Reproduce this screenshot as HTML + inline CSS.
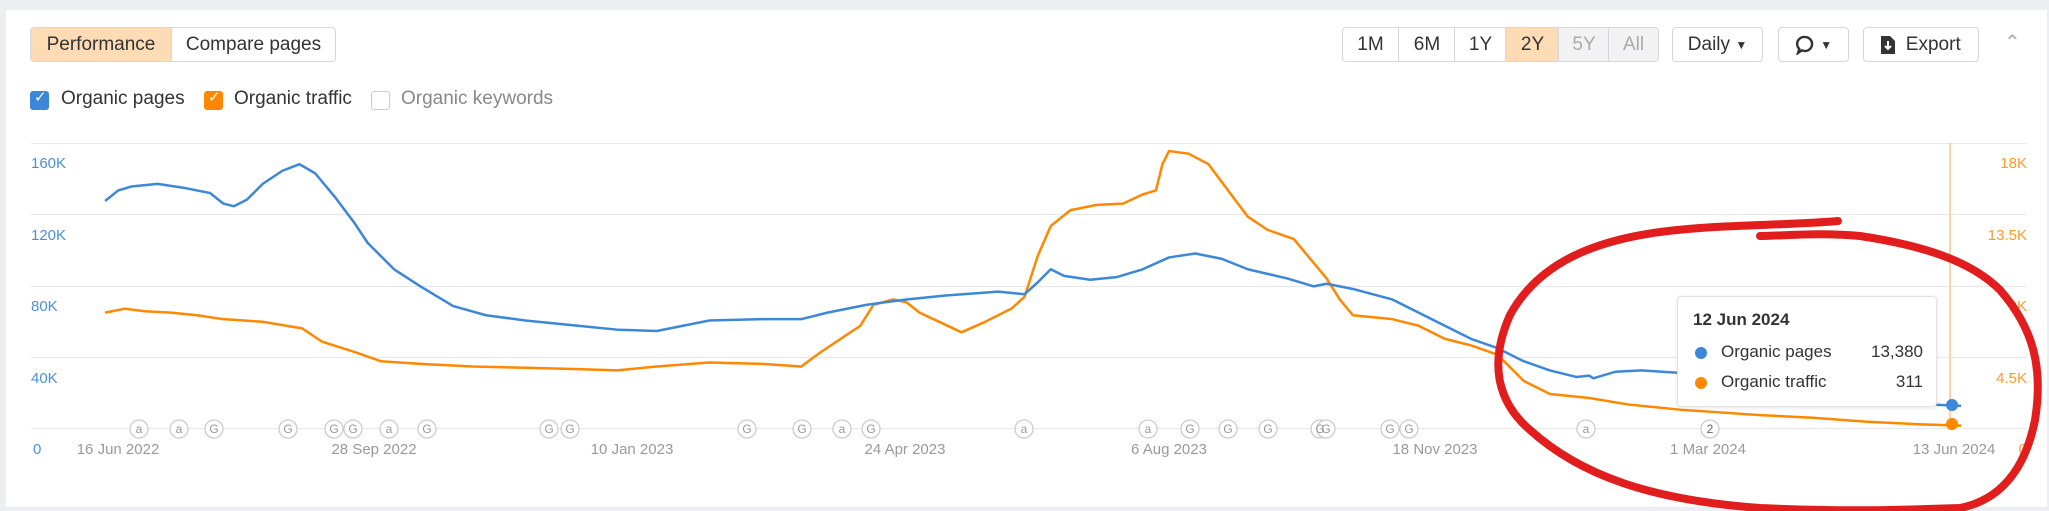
<!DOCTYPE html>
<html><head><meta charset="utf-8"><style>
body{margin:0;width:2049px;height:511px;background:#eceef1;font-family:"Liberation Sans",sans-serif;overflow:hidden;position:relative}
.card{position:absolute;left:6px;top:10px;width:2041px;height:497px;background:#fff}
.btn{position:absolute;top:27px;height:35px;border:1px solid #d5d7db;border-radius:4px;box-sizing:border-box;background:#fff;font-size:19px;color:#333;display:flex;align-items:center;justify-content:center}
.seg{position:absolute;top:0;bottom:0;display:flex;align-items:center;justify-content:center;border-left:1px solid #d5d7db}
.cb{position:absolute;top:91px;width:19px;height:19px;border-radius:3px;box-sizing:border-box}
.lbl{position:absolute;top:88px;font-size:19px;color:#333}
.ax{position:absolute;font-size:15px}
.dt{position:absolute;top:441px;font-size:15px;color:#999;transform:translateX(-50%)}
</style></head><body>
<div class="card"></div>
<div class="btn" style="left:30px;width:306px;overflow:hidden">
 <div class="seg" style="left:0;width:140px;background:#fddcb5;border:none">Performance</div>
 <div class="seg" style="left:140px;right:0">Compare pages</div>
</div>
<div class="cb" style="left:30px;background:#3d87d8"></div><span style="position:absolute;left:34px;top:88px;color:#fff;font-size:15px">✓</span>
<div class="lbl" style="left:61px">Organic pages</div>
<div class="cb" style="left:204px;background:#ff8800"></div><span style="position:absolute;left:208px;top:88px;color:#fff;font-size:15px">✓</span>
<div class="lbl" style="left:234px">Organic traffic</div>
<div class="cb" style="left:371px;border:1px solid #ccc"></div>
<div class="lbl" style="left:401px;color:#888">Organic keywords</div>

<div class="btn" style="left:1342px;width:317px;overflow:hidden">
 <div class="seg" style="left:0;width:55px;border:none">1M</div>
 <div class="seg" style="left:55px;width:56px">6M</div>
 <div class="seg" style="left:111px;width:51px">1Y</div>
 <div class="seg" style="left:162px;width:53px;background:#fddcb5">2Y</div>
 <div class="seg" style="left:215px;width:50px;background:#f2f2f2;color:#aaa">5Y</div>
 <div class="seg" style="left:265px;right:0;background:#f2f2f2;color:#aaa">All</div>
</div>
<div class="btn" style="left:1672px;width:91px">Daily&nbsp;<span style="font-size:12px">▼</span></div>
<div class="btn" style="left:1778px;width:71px"><svg width="20" height="20" viewBox="0 0 20 20"><path d="M10 2a7 7 0 1 1-3 13.3L3 18l1.3-4A7 7 0 0 1 10 2z" fill="none" stroke="#333" stroke-width="2.4"/></svg>&nbsp;<span style="font-size:12px">▼</span></div>
<div class="btn" style="left:1863px;width:116px"><svg width="14" height="18" viewBox="0 0 14 18"><path d="M0 0h9l5 5v13H0z" fill="#333"/><path d="M7 5v8M4 10l3 3 3-3" stroke="#fff" stroke-width="2" fill="none"/></svg>&nbsp;&nbsp;Export</div>
<div style="position:absolute;left:2004px;top:30px;font-size:20px;color:#aaa">&#8963;</div>

<svg style="position:absolute;left:0;top:0" width="2049" height="511">
 <g stroke="#e8e8e8" stroke-width="1">
  <line x1="31" y1="143.5" x2="2027" y2="143.5"/><line x1="31" y1="214.5" x2="2027" y2="214.5"/>
  <line x1="31" y1="286.5" x2="2027" y2="286.5"/><line x1="31" y1="357.5" x2="2027" y2="357.5"/>
  <line x1="31" y1="428.5" x2="2027" y2="428.5"/>
 </g>
 <line x1="1950" y1="143" x2="1950" y2="428" stroke="#fbd3a8" stroke-width="2"/>
 <g fill="none" stroke-width="2.5" stroke-linejoin="round" transform="scale(1.3135)">
  <polyline vector-effect="non-scaling-stroke" stroke="#ff8800" points="80,238 95,235 110,237 130,238 150,240 170,243 200,245 230,250 245,260 270,268 290,275 320,277 360,279 400,280 440,281 470,282 500,279 540,276 580,277 610,279 625,268 640,258 655,248 665,232 680,228 690,230 700,238 715,245 732,253 750,245 770,235 780,226 790,195 800,172 815,160 835,156 855,155 870,148 880,145 885,125 890,115 905,117 920,125 935,145 950,165 965,175 985,182 1000,200 1010,212 1020,228 1030,240 1060,243 1080,248 1100,258 1120,263 1140,270 1160,290 1180,300 1210,303 1240,308 1280,312 1310,314 1340,316 1380,318 1420,321 1460,323 1493,324"/>
  <polyline vector-effect="non-scaling-stroke" stroke="#3d87d8" points="80,153 90,145 100,142 120,140 140,143 160,147 170,155 178,157 188,152 200,140 215,130 228,125 240,132 255,150 270,170 280,185 300,205 320,218 345,233 370,240 400,244 440,248 470,251 500,252 520,248 540,244 580,243 610,243 630,238 660,232 690,228 720,225 760,222 780,224 790,215 800,205 810,210 830,213 850,211 870,205 890,196 910,193 930,197 950,205 980,212 1000,218 1010,216 1030,220 1060,228 1080,238 1100,248 1120,258 1140,265 1160,275 1180,282 1200,287 1210,286 1213,288 1230,283 1250,282 1280,284 1300,287 1400,298 1470,308 1493,309"/>
 </g>
 <circle cx="1952" cy="405" r="6" fill="#3d87d8"/><circle cx="1952" cy="424" r="6" fill="#ff8800"/>
 <g font-family="Liberation Sans" font-size="12" fill="#999" text-anchor="middle" stroke-width="1.3">
  <g stroke="#ccc" fill="#fff">
   <circle cx="139" cy="429" r="9"/><circle cx="179" cy="429" r="9"/><circle cx="214" cy="429" r="9"/><circle cx="288" cy="429" r="9"/><circle cx="334" cy="429" r="9"/><circle cx="353" cy="429" r="9"/><circle cx="389" cy="429" r="9"/><circle cx="427" cy="429" r="9"/><circle cx="549" cy="429" r="9"/><circle cx="570" cy="429" r="9"/><circle cx="747" cy="429" r="9"/><circle cx="802" cy="429" r="9"/><circle cx="842" cy="429" r="9"/><circle cx="871" cy="429" r="9"/><circle cx="1024" cy="429" r="9"/><circle cx="1148" cy="429" r="9"/><circle cx="1190" cy="429" r="9"/><circle cx="1228" cy="429" r="9"/><circle cx="1268" cy="429" r="9"/><circle cx="1320" cy="429" r="9"/><circle cx="1326" cy="429" r="9"/><circle cx="1390" cy="429" r="9"/><circle cx="1409" cy="429" r="9"/><circle cx="1586" cy="429" r="9"/><circle cx="1710" cy="429" r="9"/>
  </g>
  <text x="139" y="433">a</text><text x="179" y="433">a</text><text x="214" y="433">G</text><text x="288" y="433">G</text><text x="334" y="433">G</text><text x="353" y="433">G</text><text x="389" y="433">a</text><text x="427" y="433">G</text><text x="549" y="433">G</text><text x="570" y="433">G</text><text x="747" y="433">G</text><text x="802" y="433">G</text><text x="842" y="433">a</text><text x="871" y="433">G</text><text x="1024" y="433">a</text><text x="1148" y="433">a</text><text x="1190" y="433">G</text><text x="1228" y="433">G</text><text x="1268" y="433">G</text><text x="1320" y="433">G</text><text x="1326" y="433">G</text><text x="1390" y="433">G</text><text x="1409" y="433">G</text><text x="1586" y="433">a</text><text x="1710" y="433" fill="#666">2</text>
 </g>
</svg>

<div class="ax" style="left:31px;top:155px;color:#4a90d9">160K</div>
<div class="ax" style="left:31px;top:227px;color:#4a90d9">120K</div>
<div class="ax" style="left:31px;top:298px;color:#4a90d9">80K</div>
<div class="ax" style="left:31px;top:370px;color:#4a90d9">40K</div>
<div class="ax" style="left:33px;top:441px;color:#4a90d9">0</div>
<div class="ax" style="right:22px;top:155px;color:#ff9a2e">18K</div>
<div class="ax" style="right:22px;top:227px;color:#ff9a2e">13.5K</div>
<div class="ax" style="right:22px;top:298px;color:#ff9a2e">9K</div>
<div class="ax" style="right:22px;top:370px;color:#ff9a2e">4.5K</div>
<div class="ax" style="right:22px;top:441px;color:#ff9a2e">0</div>

<div class="dt" style="left:118px">16 Jun 2022</div>
<div class="dt" style="left:374px">28 Sep 2022</div>
<div class="dt" style="left:632px">10 Jan 2023</div>
<div class="dt" style="left:905px">24 Apr 2023</div>
<div class="dt" style="left:1169px">6 Aug 2023</div>
<div class="dt" style="left:1435px">18 Nov 2023</div>
<div class="dt" style="left:1708px">1 Mar 2024</div>
<div class="dt" style="left:1954px">13 Jun 2024</div>

<div style="position:absolute;left:1677px;top:296px;width:260px;height:111px;box-sizing:border-box;background:#fff;border:1px solid #e2e2e2;border-radius:4px;box-shadow:0 1px 4px rgba(0,0,0,.1);font-size:17px;color:#333">
 <div style="position:absolute;left:15px;top:13px;font-weight:bold">12 Jun 2024</div>
 <div style="position:absolute;left:17px;top:50px;width:12px;height:12px;border-radius:50%;background:#3d87d8"></div>
 <div style="position:absolute;left:43px;top:45px">Organic pages</div>
 <div style="position:absolute;right:13px;top:45px">13,380</div>
 <div style="position:absolute;left:17px;top:80px;width:12px;height:12px;border-radius:50%;background:#ff8800"></div>
 <div style="position:absolute;left:43px;top:75px">Organic traffic</div>
 <div style="position:absolute;right:13px;top:75px">311</div>
</div>

<svg style="position:absolute;left:0;top:0" width="2049" height="511">
 <path d="M1838,221 C1780,226 1720,224 1660,232 C1600,240 1540,260 1510,315 C1490,360 1495,400 1530,430 C1580,475 1650,500 1760,508 C1850,512 1900,510 1960,508 C2000,500 2025,470 2035,420 C2043,370 2035,330 2000,290 C1970,260 1920,245 1860,236 C1820,232 1780,236 1760,236" fill="none" stroke="#e11d1d" stroke-width="8" stroke-linecap="round"/>
</svg>
</body></html>
